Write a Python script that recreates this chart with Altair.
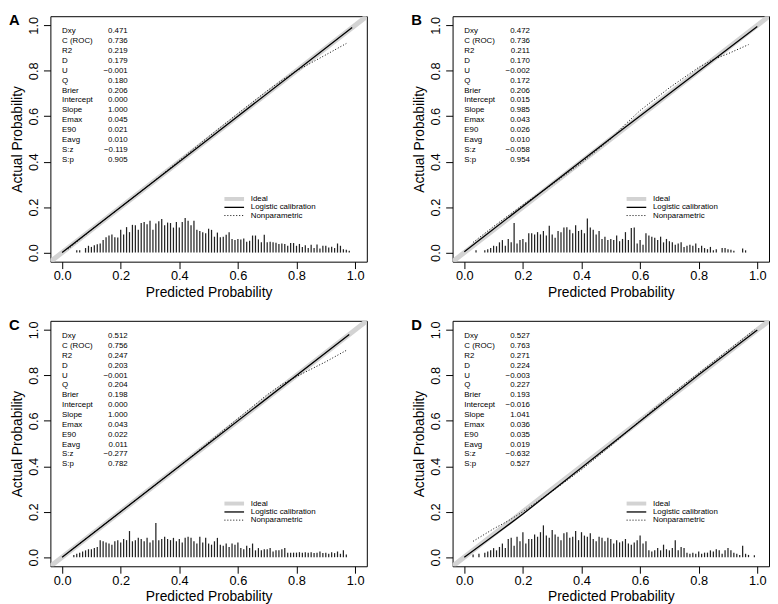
import altair as alt
import pandas as pd

# ---------------- data ----------------
letters = ["A", "B", "C", "D"]
stat_names = ["Dxy", "C (ROC)", "R2", "D", "U", "Q", "Brier", "Intercept",
              "Slope", "Emax", "E90", "Eavg", "S:z", "S:p"]
stats_A = ["0.471", "0.736", "0.219", "0.179", "\u22120.001", "0.180", "0.206",
           "0.000", "1.000", "0.045", "0.021", "0.010", "\u22120.119", "0.905"]
stats_B = ["0.472", "0.736", "0.211", "0.170", "\u22120.002", "0.172", "0.206",
           "0.015", "0.985", "0.043", "0.026", "0.010", "\u22120.058", "0.954"]
stats_C = ["0.512", "0.756", "0.247", "0.203", "\u22120.001", "0.204", "0.198",
           "0.000", "1.000", "0.043", "0.022", "0.011", "\u22120.277", "0.782"]
stats_D = ["0.527", "0.763", "0.271", "0.224", "\u22120.003", "0.227", "0.193",
           "\u22120.016", "1.041", "0.036", "0.035", "0.019", "\u22120.632", "0.527"]

# spike histogram of predicted probabilities (bins of 0.01)
hist_start = [0.05, 0.04, 0.04, 0.02]
hist_A = [0.010, 0.010, 0.000, 0.020, 0.030, 0.025, 0.032, 0.037, 0.040, 0.055,
          0.068, 0.075, 0.080, 0.068, 0.066, 0.100, 0.080, 0.112, 0.090, 0.122,
          0.120, 0.100, 0.130, 0.135, 0.125, 0.140, 0.100, 0.128, 0.138, 0.148,
          0.120, 0.132, 0.130, 0.110, 0.135, 0.110, 0.135, 0.152, 0.140, 0.120,
          0.140, 0.100, 0.095, 0.090, 0.085, 0.105, 0.100, 0.070, 0.088, 0.068,
          0.070, 0.078, 0.090, 0.060, 0.055, 0.060, 0.058, 0.062, 0.048, 0.052,
          0.075, 0.075, 0.058, 0.045, 0.078, 0.045, 0.048, 0.045, 0.043, 0.038,
          0.040, 0.038, 0.030, 0.042, 0.042, 0.030, 0.038, 0.025, 0.032, 0.020,
          0.034, 0.020, 0.036, 0.018, 0.030, 0.030, 0.022, 0.026, 0.020, 0.040,
          0.030, 0.015, 0.012, 0.008]
hist_B = [0.010, 0.000, 0.000, 0.010, 0.015, 0.020, 0.030, 0.028, 0.045, 0.055,
          0.030, 0.060, 0.045, 0.130, 0.040, 0.055, 0.060, 0.045, 0.085, 0.085,
          0.080, 0.090, 0.080, 0.095, 0.075, 0.118, 0.080, 0.065, 0.095, 0.090,
          0.110, 0.112, 0.100, 0.085, 0.120, 0.095, 0.100, 0.085, 0.150, 0.110,
          0.100, 0.080, 0.095, 0.060, 0.070, 0.055, 0.060, 0.055, 0.075, 0.050,
          0.060, 0.090, 0.055, 0.108, 0.110, 0.040, 0.055, 0.035, 0.085, 0.075,
          0.070, 0.065, 0.055, 0.070, 0.045, 0.060, 0.050, 0.045, 0.035, 0.040,
          0.045, 0.025, 0.030, 0.035, 0.030, 0.040, 0.020, 0.030, 0.020, 0.015,
          0.025, 0.010, 0.015, 0.000, 0.020, 0.020, 0.015, 0.012, 0.008, 0.000,
          0.000, 0.018, 0.010, 0.000]
hist_C = [0.010, 0.015, 0.020, 0.025, 0.030, 0.035, 0.035, 0.040, 0.045, 0.075,
          0.070, 0.065, 0.060, 0.055, 0.070, 0.075, 0.065, 0.080, 0.075, 0.115,
          0.070, 0.075, 0.085, 0.080, 0.070, 0.085, 0.065, 0.075, 0.150, 0.075,
          0.080, 0.090, 0.080, 0.075, 0.085, 0.070, 0.080, 0.065, 0.085, 0.090,
          0.085, 0.070, 0.060, 0.090, 0.065, 0.085, 0.060, 0.055, 0.070, 0.085,
          0.055, 0.050, 0.060, 0.045, 0.060, 0.055, 0.065, 0.040, 0.035, 0.050,
          0.040, 0.060, 0.030, 0.040, 0.030, 0.035, 0.035, 0.040, 0.025, 0.030,
          0.030, 0.035, 0.040, 0.020, 0.020, 0.020, 0.020, 0.022, 0.020, 0.022,
          0.020, 0.022, 0.018, 0.020, 0.025, 0.018, 0.020, 0.015, 0.022, 0.018,
          0.025, 0.015, 0.030, 0.012]
hist_D = [0.000, 0.012, 0.000, 0.015, 0.000, 0.020, 0.025, 0.030, 0.040, 0.030,
          0.045, 0.060, 0.040, 0.080, 0.085, 0.050, 0.090, 0.070, 0.110, 0.060,
          0.080, 0.080, 0.100, 0.090, 0.110, 0.140, 0.095, 0.085, 0.120, 0.100,
          0.090, 0.075, 0.105, 0.110, 0.085, 0.090, 0.115, 0.075, 0.110, 0.095,
          0.090, 0.105, 0.080, 0.070, 0.090, 0.085, 0.070, 0.085, 0.080, 0.060,
          0.075, 0.065, 0.070, 0.080, 0.060, 0.055, 0.065, 0.075, 0.095, 0.060,
          0.070, 0.030, 0.025, 0.030, 0.040, 0.030, 0.055, 0.035, 0.030, 0.040,
          0.075, 0.030, 0.045, 0.040, 0.020, 0.015, 0.020, 0.015, 0.025, 0.015,
          0.020, 0.020, 0.030, 0.025, 0.035, 0.030, 0.015, 0.030, 0.040, 0.030,
          0.020, 0.015, 0.010, 0.050, 0.015, 0.010, 0.000, 0.008]

# logistic calibration curves
logis_x = [[0.0, 0.5, 0.99],
           [0.0, 0.5, 1.0],
           [0.0, 0.5, 0.98],
           [0.0, 0.1, 0.2, 0.5, 0.8, 1.0]]
logis_y = [[0.0, 0.5, 0.99],
           [0.004, 0.503, 0.995],
           [0.0, 0.5, 0.98],
           [0.0, 0.094, 0.19, 0.496, 0.803, 1.0]]

# nonparametric (loess) calibration curves
nonpar_x = [[0.02, 0.1, 0.2, 0.3, 0.4, 0.5, 0.6, 0.7, 0.75, 0.8, 0.85, 0.9, 0.97],
            [0.03, 0.1, 0.2, 0.3, 0.4, 0.5, 0.55, 0.6, 0.7, 0.8, 0.85, 0.9, 0.97],
            [0.03, 0.2, 0.4, 0.6, 0.7, 0.75, 0.8, 0.9, 0.97],
            [0.03, 0.1, 0.15, 0.2, 0.3, 0.4, 0.5, 0.6, 0.7, 0.8, 0.9, 0.99]]
nonpar_y = [[0.015, 0.1, 0.2, 0.3, 0.405, 0.51, 0.612, 0.712, 0.758, 0.80, 0.835, 0.87, 0.92],
            [0.045, 0.115, 0.21, 0.3, 0.395, 0.5, 0.565, 0.625, 0.725, 0.815, 0.85, 0.875, 0.915],
            [0.03, 0.2, 0.4, 0.61, 0.715, 0.76, 0.795, 0.86, 0.91],
            [0.07, 0.125, 0.16, 0.2, 0.29, 0.385, 0.49, 0.6, 0.71, 0.81, 0.91, 1.0]]

ideal_line = [-0.04, 1.04]
legend_labels = ["Ideal", "Logistic calibration", "Nonparametric"]
tick_values = [0.0, 0.2, 0.4, 0.6, 0.8, 1.0]

all_stats = [stats_A, stats_B, stats_C, stats_D]
all_hist = [hist_A, hist_B, hist_C, hist_D]

# ---------------- layout constants ----------------
DOM = [-0.04, 1.04]
W, H = 321, 249
FONT = "Liberation Sans"


def panel(k):
    XS = alt.Scale(domain=DOM, nice=False, zero=False)
    YS = alt.Scale(domain=DOM, nice=False, zero=False)
    XAX = alt.Axis(title="Predicted Probability", values=tick_values, format=".1f",
                   grid=False, domain=False, tickSize=7, labelPadding=1,
                   titlePadding=3, labelFontSize=13, titleFontSize=14,
                   labelFlush=False, labelOverlap=False)
    YAX = alt.Axis(title="Actual Probability", values=tick_values, format=".1f",
                   grid=False, domain=False, tickSize=7, labelPadding=3,
                   titlePadding=3, labelAngle=270, labelAlign="center",
                   labelBaseline="bottom", labelFontSize=13, titleFontSize=14,
                   labelFlush=False, labelOverlap=False)

    def X(f):
        return alt.X(f, type="quantitative", scale=XS, axis=XAX)

    def Y(f):
        return alt.Y(f, type="quantitative", scale=YS, axis=YAX)

    ideal = alt.Chart(pd.DataFrame({"x": ideal_line, "y": ideal_line})).mark_line(
        color="#d3d3d3", strokeWidth=5, clip=True).encode(x=X("x"), y=Y("y"))

    h = all_hist[k]
    hdf = pd.DataFrame({"x": [round(hist_start[k] + 0.01 * i, 2) for i in range(len(h))],
                        "h": h})
    hdf["y0"] = 0.0
    hdf = hdf[hdf["h"] > 0]
    spikes = alt.Chart(hdf).mark_rule(color="#222222", strokeWidth=1.25).encode(
        x=X("x"), y=Y("h"), y2=alt.Y2("y0"))

    logis = alt.Chart(pd.DataFrame({"x": logis_x[k], "y": logis_y[k]})).mark_line(
        color="black", strokeWidth=1.3).encode(x=X("x"), y=Y("y"))
    nonpar = alt.Chart(pd.DataFrame({"x": nonpar_x[k], "y": nonpar_y[k]})).mark_line(
        color="black", strokeWidth=1, strokeDash=[1, 2]).encode(x=X("x"), y=Y("y"))

    lab = alt.Chart(pd.DataFrame({"x": [0.0], "y": [0.99],
                                  "t": ["\n".join(stat_names)]})).mark_text(
        align="left", baseline="top", fontSize=8, lineHeight=10, lineBreak="\n",
        font=FONT, color="black").encode(x=X("x"), y=Y("y"), text="t:N")
    val = alt.Chart(pd.DataFrame({"x": [0.224], "y": [0.99],
                                  "t": ["\n".join(all_stats[k])]})).mark_text(
        align="right", baseline="top", fontSize=8, lineHeight=10, lineBreak="\n",
        font=FONT, color="black").encode(x=X("x"), y=Y("y"), text="t:N")

    ly = [0.236, 0.199, 0.163]
    seg = lambda i: pd.DataFrame({"x": [0.554], "x2": [0.621], "y": [ly[i]]})
    leg1 = alt.Chart(seg(0)).mark_rule(color="#d3d3d3", strokeWidth=4).encode(
        x=X("x"), x2="x2", y=Y("y"))
    leg2 = alt.Chart(seg(1)).mark_rule(color="black", strokeWidth=1.3).encode(
        x=X("x"), x2="x2", y=Y("y"))
    leg3 = alt.Chart(seg(2)).mark_rule(color="black", strokeWidth=1,
                                       strokeDash=[1, 2]).encode(
        x=X("x"), x2="x2", y=Y("y"))
    legt = alt.Chart(pd.DataFrame({"x": [0.644] * 3, "y": ly,
                                   "t": legend_labels})).mark_text(
        align="left", baseline="middle", fontSize=8, font=FONT, color="black").encode(
        x=X("x"), y=Y("y"), text="t:N")

    letter = alt.Chart(pd.DataFrame({"t": [letters[k]]})).mark_text(
        align="left", baseline="top", fontSize=15, fontWeight="bold", font=FONT,
        color="black").encode(x=alt.value(-42), y=alt.value(-3), text="t:N")

    return alt.layer(ideal, spikes, logis, nonpar, lab, val, leg1, leg2, leg3,
                     legt, letter).properties(width=W, height=H)


row1 = alt.hconcat(panel(0), panel(1), spacing=43)
row2 = alt.hconcat(panel(2), panel(3), spacing=43)
chart = alt.vconcat(row1, row2, spacing=17).properties(
    padding=0, background="white"
).configure_view(
    stroke="black", strokeWidth=1
).configure_axis(
    labelFont=FONT, titleFont=FONT, labelColor="black", titleColor="black",
    tickColor="black", tickWidth=1, titleFontWeight="normal"
)

chart.save("out.html", embed_options={"renderer": "svg", "actions": False})
